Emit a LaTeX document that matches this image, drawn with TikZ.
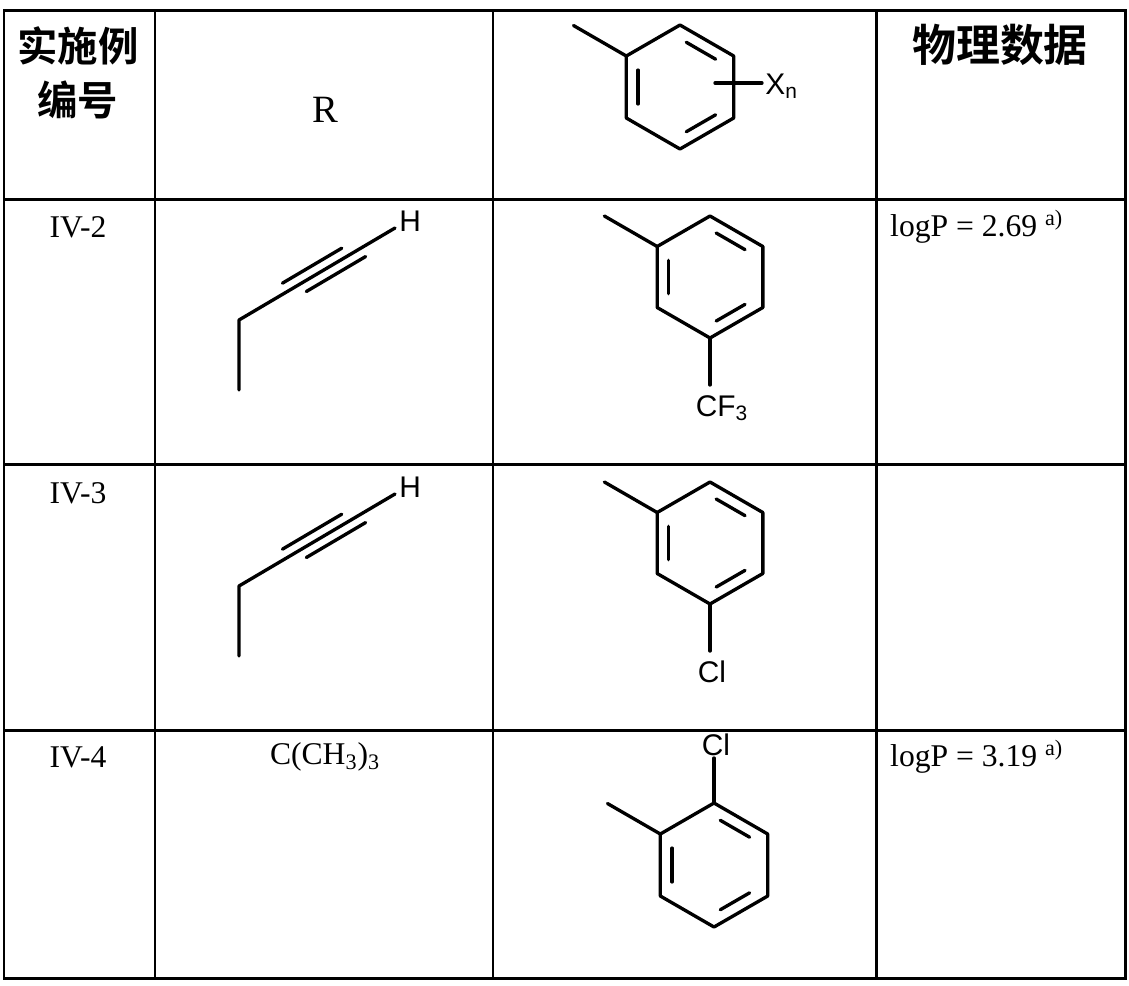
\documentclass[tikz,border=0pt]{standalone}
\usepackage{fontspec}
\setmainfont{Liberation Serif}
\newfontfamily\chemfont{Liberation Sans}
\newfontfamily\cjk{Noto Sans CJK SC}[BoldFont={Noto Sans CJK SC Bold}]
\usetikzlibrary{calc}

% benzene ring: name, center, radius
\newcommand{\benzring}[3]{%
  \foreach \a/\v in {270/t,330/ur,30/lr,90/b,150/ll,210/ul} {
    \coordinate (#1\v) at ($(#2)+(\a:#3)$);
  }
  \draw[bond] (#1t) -- (#1ur) -- (#1lr) -- (#1b) -- (#1ll) -- (#1ul) -- cycle;
  \draw[bond] ($(#2)!0.78!(#1ul)!0.15!($(#2)!0.78!(#1ll)$)$) -- ($(#2)!0.78!(#1ll)!0.15!($(#2)!0.78!(#1ul)$)$);
  \draw[bond] ($(#2)!0.78!(#1t)!0.15!($(#2)!0.78!(#1ur)$)$) -- ($(#2)!0.78!(#1ur)!0.15!($(#2)!0.78!(#1t)$)$);
  \draw[bond] ($(#2)!0.78!(#1lr)!0.15!($(#2)!0.78!(#1b)$)$) -- ($(#2)!0.78!(#1b)!0.15!($(#2)!0.78!(#1lr)$)$);
  \draw[bond] (#1ul) -- ++(210:61);
}
% butynyl chain: name, top of chain
\newcommand{\butyne}[2]{%
  \coordinate (#1c1) at ($(#2)+(0,70)$);
  \coordinate (#1c2) at (#2);
  \coordinate (#1c3) at ($(#2)+(156,-92)$);
  \draw[bond] (#1c1) -- (#1c2) -- (#1c3);
  \coordinate (#1u1) at ($(#1c2)!0.31!(#1c3)$);
  \coordinate (#1u2) at ($(#1c2)!0.69!(#1c3)$);
  \coordinate (#1l1) at ($(#1c2)!0.40!(#1c3)$);
  \coordinate (#1l2) at ($(#1c2)!0.78!(#1c3)$);
  \draw[bond] ($(#1u1)!5.5pt!90:(#1c3)$) -- ($(#1u2)!5.5pt!90:(#1c3)$);
  \draw[bond] ($(#1l1)!5.5pt!-90:(#1c3)$) -- ($(#1l2)!5.5pt!-90:(#1c3)$);
  \node[atom, anchor=south west, inner sep=0pt] at ($(#1c3)+(4,4)$) {H};
}

\begin{document}
\begin{tikzpicture}[x=0.02cm, y=-0.02cm,
    grid/.style={line width=1.7pt},
    bond/.style={line width=1.9pt, line cap=round, line join=round},
    atom/.style={font=\chemfont\fontsize{17}{17}\selectfont},
    cell/.style={font=\fontsize{18}{18}\selectfont},
    head/.style={font=\cjk\bfseries\fontsize{23}{31}\selectfont, align=center}]
  \useasboundingbox (0,0) rectangle (1129,985);

  % table grid
  \draw[grid] (4,10) rectangle (1125,978);
  \foreach \x in {155,493,876} \draw[grid] (\x,10) -- (\x,978);
  \foreach \y in {199,464,730} \draw[grid] (4,\y) -- (1125,\y);

  % header
  \node[head] (hnum) at (78,73) {实施例\\编号};
  \node[cell, font=\fontsize{22}{22}\selectfont] (hr) at (325,110) {R};
  \node[head, font=\cjk\bfseries\fontsize{25}{30}\selectfont] (hdata) at (1000,45) {物理数据};
  \coordinate (ring0) at (680,87);
  \benzring{h}{ring0}{62}
  \draw[bond] (715,83) -- (762,83);
  \node[atom, anchor=west, inner sep=0pt] (xn) at (765,86) {X\textsubscript{n}};

  % IV-2
  \node[cell] (n2) at (78,227) {IV-2};
  \butyne{a}{239,320}
  \coordinate (ring2) at (710,277);
  \benzring{b}{ring2}{61}
  \draw[bond] (bb) -- ++(0,47);
  \node[atom, inner sep=0pt] (cf3) at (722,408) {CF\textsubscript{3}};
  \node[cell, anchor=west] (p2) at (884,227) {logP = 2.69 \textsuperscript{a)}};

  % IV-3
  \node[cell] (n3) at (78,493) {IV-3};
  \butyne{c}{239,586}
  \coordinate (ring3) at (710,543);
  \benzring{d}{ring3}{61}
  \draw[bond] (db) -- ++(0,47);
  \node[atom, inner sep=0pt] (cl3) at (712,672) {Cl};

  % IV-4
  \node[cell] (n4) at (78,757) {IV-4};
  \node[cell] (r4) at (325,757) {C(CH\textsubscript{3})\textsubscript{3}};
  \coordinate (ring4) at (714,865);
  \benzring{e}{ring4}{62}
  \draw[bond] (et) -- ++(0,-45);
  \node[atom, inner sep=0pt] (cl4) at (716,745) {Cl};
  \node[cell, anchor=west] (p4) at (884,757) {logP = 3.19 \textsuperscript{a)}};
\end{tikzpicture}
\end{document}
